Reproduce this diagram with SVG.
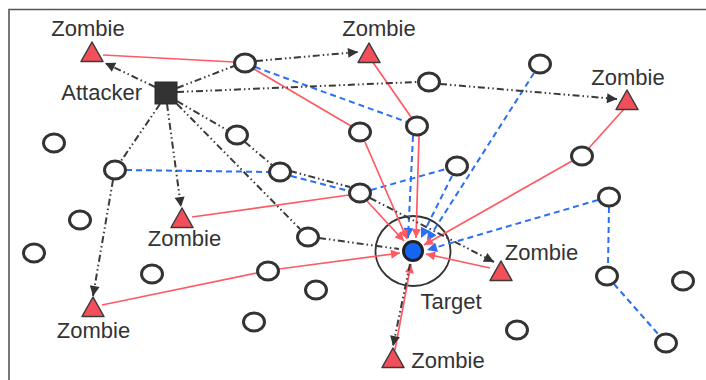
<svg xmlns="http://www.w3.org/2000/svg" width="706" height="380" viewBox="0 0 706 380">
  <style>
    .frame { fill: none; stroke: #555; stroke-width: 1.6; }
    .cmd { fill: none; stroke: #3a3a3a; stroke-width: 2; stroke-dasharray: 7 3 1.5 3 1.5 3; }
    .atk { fill: none; stroke: #ff5a63; stroke-width: 1.7; }
    .refl { fill: none; stroke: #2a6ff5; stroke-width: 2; stroke-dasharray: 6 4; }
    .host { fill: #fff; stroke: #333; stroke-width: 3; }
    .zombie { fill: #f24f5b; stroke: #3a3a3a; stroke-width: 1.5; stroke-linejoin: round; }
    .ring { fill: none; stroke: #333; stroke-width: 1.8; }
    .label { font-family: "Liberation Sans", Arial, sans-serif; font-size: 22px; fill: #333; }
  </style>
  <defs>
    <marker id="ah-cmd" viewBox="0 0 10 10" refX="10" refY="5" markerUnits="userSpaceOnUse" markerWidth="11" markerHeight="10" orient="auto">
      <path d="M0,0 L10,5 L0,10 Z" fill="#333"/>
    </marker>
    <marker id="ah-atk" viewBox="0 0 10 10" refX="10" refY="5" markerUnits="userSpaceOnUse" markerWidth="12" markerHeight="9" orient="auto">
      <path d="M0,0 L10,5 L0,10 Z" fill="#ff5a63"/>
    </marker>
    <marker id="ah-refl" viewBox="0 0 10 10" refX="10" refY="5" markerUnits="userSpaceOnUse" markerWidth="12" markerHeight="10" orient="auto">
      <path d="M0,0 L10,5 L0,10 Z" fill="#2a6ff5"/>
    </marker>
    <path id="tri" d="M0,-10 L11,9.5 L-11,9.5 Z"/>
  </defs>

  <path class="frame" d="M9,380 V9.5 H706"/>

  <!-- target neighbourhood ring -->
  <g id="target-zone">
    <ellipse class="ring" cx="413" cy="251" rx="37.5" ry="35"/>
  </g>

  <g id="connectors">
    <!-- reflected traffic (blue dashed) -->
    <line class="refl" x1="255" y1="67" x2="407" y2="122"/>
    <line class="refl" x1="413" y1="136" x2="408" y2="238" marker-end="url(#ah-refl)"/>
    <line class="refl" x1="126" y1="170" x2="269" y2="172"/>
    <line class="refl" x1="291" y1="176" x2="349" y2="191"/>
    <line class="refl" x1="371" y1="190" x2="446" y2="169"/>
    <line class="refl" x1="452" y1="176" x2="421" y2="238" marker-end="url(#ah-refl)"/>
    <line class="refl" x1="534" y1="73" x2="427" y2="241" marker-end="url(#ah-refl)"/>
    <line class="refl" x1="598" y1="200" x2="427" y2="250" marker-end="url(#ah-refl)"/>
    <line class="refl" x1="609" y1="207" x2="608" y2="266"/>
    <line class="refl" x1="614" y1="284" x2="659" y2="335"/>

    <!-- attack traffic (red) -->
    <line class="atk" x1="103" y1="55" x2="234" y2="62"/>
    <line class="atk" x1="254" y1="69" x2="351" y2="126"/>
    <line class="atk" x1="365" y1="142" x2="407" y2="239" marker-end="url(#ah-atk)"/>
    <line class="atk" x1="372" y1="61" x2="411" y2="117"/>
    <line class="atk" x1="419" y1="136" x2="416" y2="238" marker-end="url(#ah-atk)"/>
    <line class="atk" x1="624" y1="109" x2="589" y2="148"/>
    <line class="atk" x1="572" y1="161" x2="424" y2="245" marker-end="url(#ah-atk)"/>
    <line class="atk" x1="192" y1="217" x2="349" y2="195"/>
    <line class="atk" x1="367" y1="201" x2="404" y2="241" marker-end="url(#ah-atk)"/>
    <line class="atk" x1="102" y1="305" x2="257" y2="273"/>
    <line class="atk" x1="279" y1="269" x2="400" y2="253" marker-end="url(#ah-atk)"/>
    <line class="atk" x1="490" y1="268" x2="426" y2="254" marker-end="url(#ah-atk)"/>
    <line class="atk" x1="395" y1="350" x2="411" y2="264" marker-end="url(#ah-atk)"/>

    <!-- command traffic (dash-dot) -->
    <line class="cmd" x1="155" y1="87" x2="105" y2="63" marker-end="url(#ah-cmd)"/>
    <line class="cmd" x1="177" y1="88" x2="234" y2="66"/>
    <line class="cmd" x1="256" y1="61" x2="358" y2="52" marker-end="url(#ah-cmd)"/>
    <line class="cmd" x1="177" y1="92" x2="417" y2="82"/>
    <line class="cmd" x1="440" y1="84" x2="617" y2="99" marker-end="url(#ah-cmd)"/>
    <line class="cmd" x1="177" y1="101" x2="227" y2="130"/>
    <line class="cmd" x1="245" y1="142" x2="272" y2="165"/>
    <line class="cmd" x1="290" y1="171" x2="350" y2="187"/>
    <line class="cmd" x1="370" y1="198" x2="494" y2="262" marker-end="url(#ah-cmd)"/>
    <line class="cmd" x1="177" y1="104" x2="300" y2="229"/>
    <line class="cmd" x1="319" y1="238" x2="399" y2="249"/>
    <line class="cmd" x1="410" y1="264" x2="393" y2="346" marker-end="url(#ah-cmd)"/>
    <line class="cmd" x1="167" y1="104" x2="181" y2="207" marker-end="url(#ah-cmd)"/>
    <line class="cmd" x1="160" y1="104" x2="121" y2="161"/>
    <line class="cmd" x1="113" y1="180" x2="93" y2="296" marker-end="url(#ah-cmd)"/>
  </g>

  <!-- attacker -->
  <g id="attacker">
    <rect x="155" y="82" width="22" height="22" fill="#333" stroke="#2a2a2a" stroke-width="1"/>
    <text class="label" x="142" y="100" text-anchor="end">Attacker</text>
  </g>

  <!-- target -->
  <g id="target">
    <circle cx="413" cy="251" r="9.5" fill="#1466f2" stroke="#222" stroke-width="3"/>
    <text class="label" x="451" y="309" text-anchor="middle">Target</text>
  </g>

  <!-- zombies -->
  <g id="zombie-1"><use href="#tri" class="zombie" x="92" y="52"/><text class="label" x="88" y="36" text-anchor="middle">Zombie</text></g>
  <g id="zombie-2"><use href="#tri" class="zombie" x="369" y="53"/><text class="label" x="379" y="36" text-anchor="middle">Zombie</text></g>
  <g id="zombie-3"><use href="#tri" class="zombie" x="627" y="100"/><text class="label" x="628" y="85" text-anchor="middle">Zombie</text></g>
  <g id="zombie-4"><use href="#tri" class="zombie" x="182" y="218"/><text class="label" x="184.5" y="246" text-anchor="middle">Zombie</text></g>
  <g id="zombie-5"><use href="#tri" class="zombie" x="93" y="307"/><text class="label" x="93.5" y="338" text-anchor="middle">Zombie</text></g>
  <g id="zombie-6"><use href="#tri" class="zombie" x="501" y="271"/><text class="label" x="541.5" y="260" text-anchor="middle">Zombie</text></g>
  <g id="zombie-7"><use href="#tri" class="zombie" x="393" y="358"/><text class="label" x="448" y="368" text-anchor="middle">Zombie</text></g>

  <!-- ordinary hosts -->
  <g id="host-1"><ellipse class="host" cx="245" cy="63" rx="10.5" ry="9"/></g>
  <g id="host-2"><ellipse class="host" cx="429" cy="82" rx="10.5" ry="9"/></g>
  <g id="host-3"><ellipse class="host" cx="540" cy="64" rx="10.5" ry="9"/></g>
  <g id="host-4"><ellipse class="host" cx="54" cy="143" rx="10.5" ry="9"/></g>
  <g id="host-5"><ellipse class="host" cx="237" cy="135" rx="10.5" ry="9"/></g>
  <g id="host-6"><ellipse class="host" cx="360" cy="132" rx="10.5" ry="9"/></g>
  <g id="host-7"><ellipse class="host" cx="417" cy="126" rx="10.5" ry="9"/></g>
  <g id="host-8"><ellipse class="host" cx="115" cy="170" rx="10.5" ry="9"/></g>
  <g id="host-9"><ellipse class="host" cx="280" cy="172" rx="10.5" ry="9"/></g>
  <g id="host-10"><ellipse class="host" cx="457" cy="166" rx="10.5" ry="9"/></g>
  <g id="host-11"><ellipse class="host" cx="582" cy="156" rx="10.5" ry="9"/></g>
  <g id="host-12"><ellipse class="host" cx="360" cy="193" rx="10.5" ry="9"/></g>
  <g id="host-13"><ellipse class="host" cx="80" cy="220" rx="10.5" ry="9"/></g>
  <g id="host-14"><ellipse class="host" cx="609" cy="197" rx="10.5" ry="9"/></g>
  <g id="host-15"><ellipse class="host" cx="34" cy="253" rx="10.5" ry="9"/></g>
  <g id="host-16"><ellipse class="host" cx="308" cy="237" rx="10.5" ry="9"/></g>
  <g id="host-17"><ellipse class="host" cx="152" cy="274" rx="10.5" ry="9"/></g>
  <g id="host-18"><ellipse class="host" cx="268" cy="271" rx="10.5" ry="9"/></g>
  <g id="host-19"><ellipse class="host" cx="316" cy="290" rx="10.5" ry="9"/></g>
  <g id="host-20"><ellipse class="host" cx="254" cy="322" rx="10.5" ry="9"/></g>
  <g id="host-21"><ellipse class="host" cx="607" cy="276" rx="10.5" ry="9"/></g>
  <g id="host-22"><ellipse class="host" cx="683" cy="281" rx="10.5" ry="9"/></g>
  <g id="host-23"><ellipse class="host" cx="517" cy="330" rx="10.5" ry="9"/></g>
  <g id="host-24"><ellipse class="host" cx="666" cy="343" rx="10.5" ry="9"/></g>
</svg>
